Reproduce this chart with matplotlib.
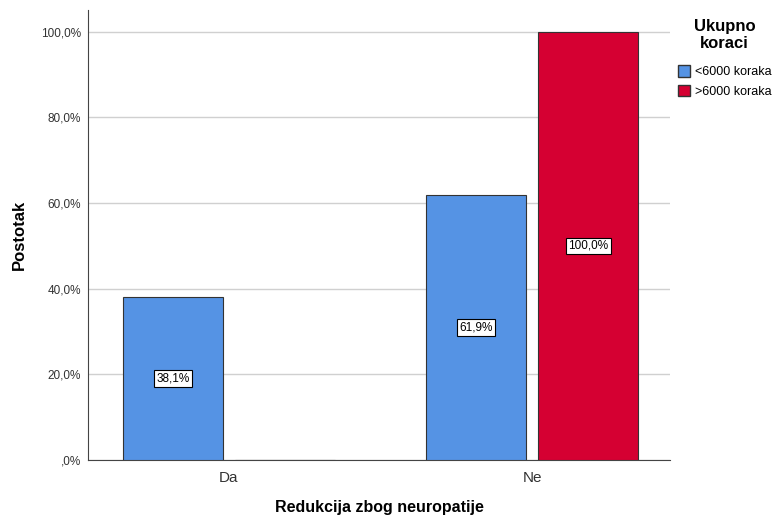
import numpy as np
import matplotlib.pyplot as plt
from matplotlib.patches import Patch

plt.rcParams['font.family'] = ['Liberation Sans', 'DejaVu Sans']

categories = ['Da', 'Ne']
series = ['<6000 koraka', '>6000 koraka']
values_low = [38.1, 61.9]
values_high = [0.0, 100.0]
colors = ['#5593E4', '#D50032']

fig = plt.figure(figsize=(7.77, 5.2), dpi=100)
ax = fig.add_axes([0.1133, 0.1154, 0.749, 0.8654])

x = np.arange(len(categories))
w = 0.33
off = 0.185
for vals, dx, c in [(values_low, -off, colors[0]), (values_high, off, colors[1])]:
    bars = ax.bar(x + dx, vals, w, color=c, edgecolor='#333333', linewidth=0.8, zorder=3)
    for b, v in zip(bars, vals):
        if v <= 0:
            continue
        ax.text(b.get_x() + b.get_width() / 2, v / 2, '{:.1f}%'.format(v).replace('.', ','),
                ha='center', va='center', fontsize=8.5, zorder=4,
                bbox=dict(boxstyle='square,pad=0.2', fc='white', ec='black', lw=0.8))

ax.set_xlim(-0.465, 1.455)
ax.set_ylim(0, 105.1)
ax.set_yticks(np.arange(0, 101, 20))
ax.set_yticklabels([',0%'] + ['{:.1f}%'.format(t).replace('.', ',') for t in np.arange(20, 101, 20)],
                   fontsize=8.5, color='#333333')
ax.set_xticks(x)
ax.set_xticklabels(categories, fontsize=11, color='#333333')
ax.tick_params(axis='y', length=0, pad=5)
ax.tick_params(axis='x', length=0, pad=8)
ax.yaxis.grid(True, color='#d0d0d0', linewidth=1, zorder=0)
for s in ['top', 'right']:
    ax.spines[s].set_visible(False)
for s in ['left', 'bottom']:
    ax.spines[s].set_color('#444444')

ax.set_ylabel('Postotak', fontsize=12, fontweight='bold', labelpad=10)
ax.set_xlabel('Redukcija zbog neuropatije', fontsize=11.5, fontweight='bold', labelpad=11)

handles = [Patch(facecolor=c, edgecolor='#333333', label=s) for c, s in zip(colors, series)]
leg = fig.legend(handles=handles, title='Ukupno\nkoraci', loc='upper left',
                 bbox_to_anchor=(0.858, 0.985), frameon=False, fontsize=9,
                 handlelength=1.0, handleheight=1.0, handletextpad=0.35, labelspacing=0.55)
leg.get_title().set_fontweight('bold')
leg.get_title().set_fontsize(12)
leg.get_title().set_multialignment('center')
leg._legend_box.sep = 10

fig.savefig('out.png', dpi=100)
